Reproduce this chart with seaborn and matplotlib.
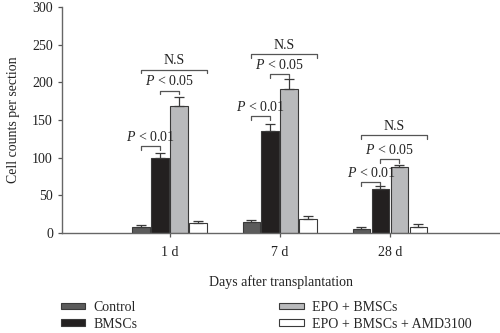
import matplotlib
matplotlib.use("Agg")
import matplotlib.pyplot as plt
import seaborn as sns
import pandas as pd
import numpy as np

days = ["1 d", "7 d", "28 d"]
groups = ["Control", "BMSCs", "EPO + BMSCs", "EPO + BMSCs + AMD3100"]
control = [8, 15, 6]
bmscs = [100, 135, 59]
epo_bmscs = [169, 191, 88]
epo_amd = [13, 19, 8]
err_control = [3, 2, 2.5]
err_bmscs = [6, 10, 3]
err_epo_bmscs = [11, 13, 3]
err_epo_amd = [3, 3.5, 3.5]
yticks = [0, 50, 100, 150, 200, 250, 300]

# annotations: (day index, hue a, hue b, bracket y, label)
annotations = [
    (0, 0, 1, 115, "P < 0.01"), (0, 1, 2, 189, "P < 0.05"), (0, 0, 3, 217, "N.S"),
    (1, 0, 1, 155, "P < 0.01"), (1, 1, 2, 211, "P < 0.05"), (1, 0, 3, 237, "N.S"),
    (2, 0, 1, 68, "P < 0.01"), (2, 1, 2, 98, "P < 0.05"), (2, 0, 3, 130, "N.S"),
]

values = [control, bmscs, epo_bmscs, epo_amd]
errors = [err_control, err_bmscs, err_epo_bmscs, err_epo_amd]
rows = []
for g, vals in zip(groups, values):
    for d, v in zip(days, vals):
        rows.append({"day": d, "group": g, "value": v})
df = pd.DataFrame(rows)

sns.set_style("ticks")
plt.rcParams["font.family"] = ["Liberation Serif", "DejaVu Serif"]
plt.rcParams["mathtext.fontset"] = "custom"
plt.rcParams["mathtext.it"] = "Liberation Serif:italic"
plt.rcParams["mathtext.rm"] = "Liberation Serif"

fig = plt.figure(figsize=(5.0, 3.33), dpi=100)
ax = fig.add_axes([0.124, 0.30, 0.876, 0.679])

palette = ["#5b5b5b", "#231f20", "#b9babc", "#ffffff"]
sns.barplot(data=df, x="day", y="value", hue="group", order=days, hue_order=groups,
            palette=palette, width=0.69, gap=0.06, errorbar=None, ax=ax,
            edgecolor="#3a3a3a", linewidth=0.8, legend=True)

ecol = "#3a3a3a"
for cont, errs in zip(ax.containers, errors):
    xs = [p.get_x() + p.get_width() / 2 for p in cont]
    hs = [p.get_height() for p in cont]
    ax.errorbar(xs, hs, yerr=[np.zeros(len(errs)), errs], fmt="none",
                ecolor=ecol, elinewidth=0.9, capsize=3.5, capthick=0.9, zorder=3)

tick_h = 5
for di, a, b, y, lab in annotations:
    pa = ax.containers[a][di]
    pb = ax.containers[b][di]
    xa = pa.get_x() + pa.get_width() / 2
    xb = pb.get_x() + pb.get_width() / 2
    if lab == "N.S":
        xb = pb.get_x() + pb.get_width()
    ax.plot([xa, xa, xb, xb], [y - tick_h, y, y, y - tick_h], color="#555555", lw=0.9)
    txt = lab if lab == "N.S" else r"$P$ < " + lab.split("< ")[1]
    ax.text((xa + xb) / 2, y + 3, txt, ha="center", va="bottom", fontsize=10, color="#222222")

ax.set_xlim(-0.98, 3.0)
ax.set_ylim(0, 300)
ax.set_yticks(yticks)
ax.set_ylabel("Cell counts per section", fontsize=10, color="#222222", labelpad=9)
ax.set_xlabel("Days after transplantation", fontsize=10, color="#222222", labelpad=12)
ax.tick_params(axis="both", labelsize=10, colors="#555555", labelcolor="#222222",
               length=3, width=0.9)
ax.tick_params(axis="x", pad=6)
for s in ["top", "right"]:
    ax.spines[s].set_visible(False)
for s in ["left", "bottom"]:
    ax.spines[s].set_color("#666666")
    ax.spines[s].set_linewidth(1.0)

handles, labels = ax.get_legend_handles_labels()
ax.get_legend().remove()
fig.legend(handles, labels, ncol=2, loc="upper left", bbox_to_anchor=(0.122, 0.096),
           frameon=False, fontsize=10, handlelength=1.75, handleheight=0.36,
           columnspacing=10.2, handletextpad=0.6, labelspacing=0.25,
           borderaxespad=0, borderpad=0)

fig.savefig("out.png", dpi=100)
